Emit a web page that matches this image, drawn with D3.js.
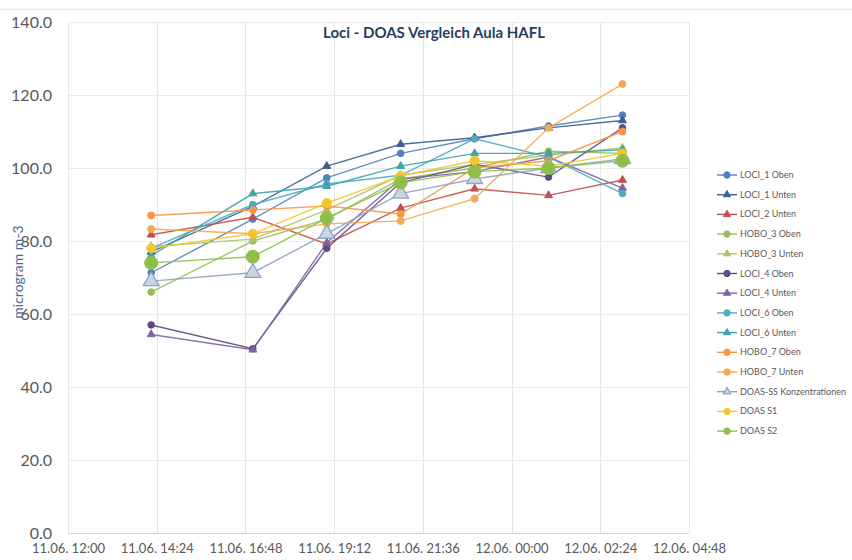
<!DOCTYPE html>
<html>
<head>
<meta charset="utf-8">
<script src="https://cdn.jsdelivr.net/npm/d3@7"></script>
<style>
  body { margin: 0; background: #fff; }
  text { font-family: Lato, "Open Sans", sans-serif; }
</style>
</head>
<body>
<script>
// measurement times (11.06. / 12.06.)
var times = ["2014-06-11T14:15", "2014-06-11T17:00", "2014-06-11T19:00", "2014-06-11T21:00",
	"2014-06-11T23:00", "2014-06-12T01:00", "2014-06-12T03:00"];

var tickTimes = ["2014-06-11T12:00", "2014-06-11T14:24", "2014-06-11T16:48", "2014-06-11T19:12",
	"2014-06-11T21:36", "2014-06-12T00:00", "2014-06-12T02:24", "2014-06-12T04:48"];
var tickLabels = ["11.06. 12:00", "11.06. 14:24", "11.06. 16:48", "11.06. 19:12",
	"11.06. 21:36", "12.06. 00:00", "12.06. 02:24", "12.06. 04:48"];

var yTicks = [0, 20, 40, 60, 80, 100, 120, 140];

var seriesNames = ["LOCI_1 Oben", "LOCI_1 Unten", "LOCI_2 Unten", "HOBO_3 Oben", "HOBO_3 Unten",
	"LOCI_4 Oben", "LOCI_4 Unten", "LOCI_6 Oben", "LOCI_6 Unten", "HOBO_7 Oben", "HOBO_7 Unten",
	"DOAS-SS Konzentrationen", "DOAS S1", "DOAS S2"];

var loci1Oben   = [71.3, 86.0, 97.3, 104.0, 108.0, 111.5, 114.5];
var loci1Unten  = [77.0, 89.5, 100.5, 106.5, 108.3, 111.0, 113.0];
var loci2Unten  = [81.7, 86.5, 79.2, 89.0, 94.3, 92.5, 96.7];
var hobo3Oben   = [66.0, 80.0, 86.0, 97.0, 100.0, 104.6, 104.0];
var hobo3Unten  = [78.5, 80.5, 88.5, 98.0, 101.0, 103.5, 105.5];
var loci4Oben   = [57.0, 50.5, 78.0, 96.0, 101.0, 97.5, 111.0];
var loci4Unten  = [54.4, 50.2, 79.5, 97.0, 99.0, 103.0, 94.5];
var loci6Oben   = [78.0, 90.0, 95.6, 98.0, 108.0, 103.0, 93.0];
var loci6Unten  = [76.0, 93.0, 95.0, 100.5, 104.0, 104.0, 105.0];
var hobo7Oben   = [87.0, 88.5, 89.6, 87.4, 100.0, 102.0, 110.0];
var hobo7Unten  = [83.3, 82.0, 84.7, 85.5, 91.6, 111.0, 123.0];
var doasSS      = [69.0, 71.3, 82.0, 93.0, 97.0, 100.0, 102.5];
var doasS1      = [78.0, 82.0, 90.4, 97.8, 102.0, 100.5, 104.0];
var doasS2      = [74.0, 75.7, 86.3, 96.0, 99.0, 100.0, 102.0];

var values = [loci1Oben, loci1Unten, loci2Unten, hobo3Oben, hobo3Unten, loci4Oben, loci4Unten,
	loci6Oben, loci6Unten, hobo7Oben, hobo7Unten, doasSS, doasS1, doasS2];

// colour, marker shape, marker size for every series
var styles = [
	{c: "#4f81bd", s: "circle", r: 3.3},
	{c: "#3a5f8f", s: "triangle", r: 3.5},
	{c: "#c0504d", s: "triangle", r: 3.5},
	{c: "#9bbb59", s: "circle", r: 3.3},
	{c: "#a9c76a", s: "triangle", r: 3.5},
	{c: "#5f4b7e", s: "circle", r: 3.3},
	{c: "#8064a2", s: "triangle", r: 3.5},
	{c: "#4bacc6", s: "circle", r: 3.3},
	{c: "#3fa4a8", s: "triangle", r: 3.5},
	{c: "#f79646", s: "circle", r: 3.5},
	{c: "#f5a94e", s: "circle", r: 3.5},
	{c: "#8fa3c0", s: "triangle", r: 7, fill: "#c9d5e6"},
	{c: "#f2c72c", s: "circle", r: 4.5},
	{c: "#8fbf4a", s: "circle", r: 6.5}
];

var W = 852, H = 560;
var margin = {top: 22, right: 163, bottom: 27, left: 68};
var width = W - margin.left - margin.right,
	height = H - margin.top - margin.bottom;

var parse = d3.timeParse("%Y-%m-%dT%H:%M");

var x = d3.scaleTime()
	.domain([parse(tickTimes[0]), parse(tickTimes[tickTimes.length - 1])])
	.range([0, width]);

var y = d3.scaleLinear()
	.domain([0, 140])
	.range([height, 0]);

var svg = d3.select("body").append("svg")
	.attr("width", W)
	.attr("height", H);

// faint frame line at the top
svg.append("line")
	.attr("x1", 0).attr("x2", W)
	.attr("y1", 9.5).attr("y2", 9.5)
	.style("stroke", "#e6ebee");

var g = svg.append("g")
	.attr("transform", "translate(" + margin.left + "," + margin.top + ")");

// gridlines
g.selectAll(".hgrid")
	.data(yTicks)
	.enter().append("line")
	.attr("x1", 0).attr("x2", width)
	.attr("y1", function(d) { return Math.round(y(d)) + 0.5; })
	.attr("y2", function(d) { return Math.round(y(d)) + 0.5; })
	.style("stroke", function(d) { return d === 0 ? "#d4d4d4" : "#ececec"; });

g.selectAll(".vgrid")
	.data(tickTimes)
	.enter().append("line")
	.attr("x1", function(d) { return Math.round(x(parse(d))) + 0.5; })
	.attr("x2", function(d) { return Math.round(x(parse(d))) + 0.5; })
	.attr("y1", 0).attr("y2", height)
	.style("stroke", "#e6e6e6");

// axes
var yAxis = d3.axisLeft(y)
	.tickValues(yTicks)
	.tickSize(0)
	.tickPadding(16)
	.tickFormat(d3.format(".1f"));

g.append("g")
	.attr("class", "y axis")
	.call(yAxis)
	.call(function(a) { a.select(".domain").remove(); })
	.selectAll("text")
	.style("font-size", "16px")
	.style("fill", "#595959");

var xAxis = d3.axisBottom(x)
	.tickValues(tickTimes.map(parse))
	.tickSize(0)
	.tickPadding(11)
	.tickFormat(function(d, i) { return tickLabels[i]; });

g.append("g")
	.attr("class", "x axis")
	.attr("transform", "translate(0," + height + ")")
	.call(xAxis)
	.call(function(a) { a.select(".domain").remove(); })
	.selectAll("text")
	.style("font-size", "13px")
	.style("fill", "#595959");

// lines
var line = d3.line()
	.x(function(d, i) { return x(parse(times[i])); })
	.y(function(d) { return y(d); });

var tri = d3.symbol().type(d3.symbolTriangle);

function drawMarker(sel, st, cx, cy) {
	if (st.s === "circle") {
		sel.append("circle")
			.attr("cx", cx).attr("cy", cy)
			.attr("r", st.r)
			.style("fill", st.fill || st.c)
			.style("stroke", st.c)
			.style("stroke-width", 1);
	} else {
		sel.append("path")
			.attr("d", tri.size(st.r * st.r * 2.2)())
			.attr("transform", "translate(" + cx + "," + cy + ")")
			.style("fill", st.fill || st.c)
			.style("stroke", st.c)
			.style("stroke-width", st.fill ? 1.3 : 1);
	}
}

values.forEach(function(vals, k) {
	g.append("path")
		.datum(vals)
		.attr("d", line)
		.style("fill", "none")
		.style("stroke", styles[k].c)
		.style("stroke-width", 1.4)
		.style("opacity", 0.9);
});

values.forEach(function(vals, k) {
	var mg = g.append("g");
	vals.forEach(function(v, i) {
		drawMarker(mg, styles[k], x(parse(times[i])), y(v));
	});
});

// title
svg.append("text")
	.attr("x", 434)
	.attr("y", 38)
	.style("text-anchor", "middle")
	.style("font-size", "15px")
	.style("font-weight", "bold")
	.style("fill", "#243f60")
	.text("Loci - DOAS Vergleich Aula HAFL");

// y axis title
svg.append("text")
	.attr("transform", "translate(23,272) rotate(-90)")
	.style("text-anchor", "middle")
	.style("font-size", "14px")
	.style("fill", "#4a6894")
	.text("microgram m-3");

// legend
var legend = svg.append("g").attr("transform", "translate(717,175)");
seriesNames.forEach(function(name, k) {
	var row = legend.append("g").attr("transform", "translate(0," + (k * 19.7) + ")");
	row.append("line")
		.attr("x1", 0).attr("x2", 20)
		.style("stroke", styles[k].c)
		.style("stroke-width", 1.4);
	var st = {c: styles[k].c, s: styles[k].s, r: Math.min(styles[k].r, 3.2), fill: styles[k].fill};
	drawMarker(row, st, 10, 0);
	row.append("text")
		.attr("x", 23)
		.attr("y", 3)
		.style("font-size", "9px")
		.style("fill", "#595959")
		.text(name);
});
</script>
</body>
</html>
